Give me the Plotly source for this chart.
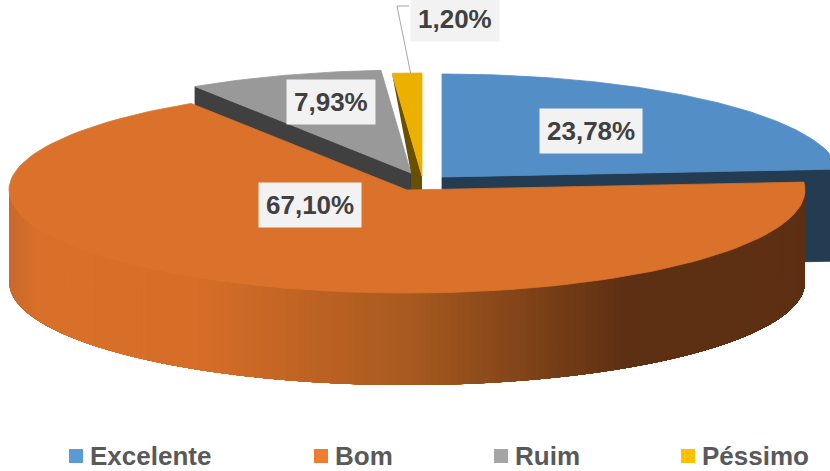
import numpy as np
import plotly.graph_objects as go

categories = ["Excelente", "Bom", "Ruim", "Péssimo"]
values = [23.78, 67.10, 7.93, 1.20]
legend_colors = ["#5B9BD5", "#ED7D31", "#A5A5A5", "#FFC000"]
top_colors = ["#548EC6", "#DA722B", "#999999", "#EBB000"]
side_colors = ["#233C52", "#5E3013", "#404040", "#695000"]
centers = [(442, 177), (407, 190), (411, 173), (422, 176)]
label_pos = [(591, 131), (310, 205), (331, 102), (455, 19)]
legend_x = [76, 321, 501, 688]
legend_y = 456

A, B, DEPTH = 398, 103, 92
W, H = 830, 471

shares = np.array(values) / sum(values) * 360
stops = np.concatenate([[0], np.cumsum(shares)])


def rim(c, t):
    r = np.radians(t)
    return c[0] + A * np.sin(r), c[1] - B * np.cos(r)


def poly(xs, ys, color, width=0.8):
    return go.Scatter(
        x=list(xs), y=list(ys), mode="lines", fill="toself", fillcolor=color,
        line=dict(color=color, width=width), hoverinfo="skip", showlegend=False,
    )


def mix(c1, c2, f):
    return "rgb(%d,%d,%d)" % tuple(c1[i] + (c2[i] - c1[i]) * f for i in range(3))


grad_x = [9, 40, 200, 410, 625, 830]
grad_c = [(200, 105, 42), (217, 113, 42), (214, 110, 40), (168, 90, 32), (94, 48, 19), (94, 48, 19)]


def grad(x):
    i = min(np.searchsorted(grad_x, x, side="right") - 1, len(grad_x) - 2)
    i = max(i, 0)
    f = (x - grad_x[i]) / (grad_x[i + 1] - grad_x[i])
    return mix(grad_c[i], grad_c[i + 1], f)


fig = go.Figure()


def wedge(i):
    t = np.linspace(stops[i], stops[i + 1], 120)
    x, y = rim(centers[i], t)
    return np.r_[centers[i][0], x, centers[i][0]], np.r_[centers[i][1], y, centers[i][1]]


# Excelente: cut face, then top
c = centers[0]
ex, ey = rim(c, stops[1])
fig.add_trace(poly([c[0], ex, ex, c[0], c[0]], [c[1], ey, ey + DEPTH, c[1] + DEPTH, c[1]], side_colors[0]))
fig.add_trace(poly(*wedge(0), top_colors[0]))

# Ruim: cut face, then top
c = centers[2]
ex, ey = rim(c, stops[2])
fig.add_trace(poly([c[0], ex, ex, c[0], c[0]], [c[1], ey, ey + DEPTH, c[1] + DEPTH, c[1]], side_colors[2]))
fig.add_trace(poly(*wedge(2), top_colors[2]))

# Péssimo: cut face, then top
c = centers[3]
ex, ey = rim(c, stops[3])
g = centers[2]
fig.add_trace(poly([ex, c[0], c[0], g[0], g[0], ex], [ey, c[1], c[1] + 30, g[1] + 30, g[1], ey], side_colors[3], width=0))
fig.add_trace(poly(*wedge(3), top_colors[3]))

# Bom: outer wall, painted left to right as shrinking overlapping pieces
c = centers[1]
for u in np.linspace(0, 1, 200):
    t_left = 270 + (stops[1] - 270) * u
    t = np.linspace(stops[1], t_left, 90)
    x, y = rim(c, t)
    xs = np.r_[x, x[::-1], x[0]]
    ys = np.r_[y, y[::-1] + DEPTH, y[0]]
    fig.add_trace(poly(xs, ys, grad(x.min() + 2), width=0))
fig.add_trace(poly(*wedge(1), top_colors[1]))

# leader line for the smallest slice
lx, ly = rim(centers[3], stops[3] + shares[3] * 0.62)
fig.add_trace(go.Scatter(x=[409, 397, lx], y=[6, 6, ly], mode="lines",
                         line=dict(color="#A6A6A6", width=1), hoverinfo="skip", showlegend=False))

# legend swatches
fig.add_trace(go.Scatter(
    x=legend_x, y=[legend_y] * 4, mode="markers", hoverinfo="skip", showlegend=False,
    marker=dict(symbol="square", size=14, color=legend_colors, line=dict(width=0)),
    cliponaxis=False,
))

annotations = []
for v, (x, y) in zip(values, label_pos):
    annotations.append(dict(
        x=x, y=y, xref="x", yref="y", showarrow=False,
        text="<b>%s%%</b>" % f"{v:.2f}".replace(".", ","),
        font=dict(family="Liberation Sans", size=26, color="#404040"),
        bgcolor="#F2F2F2", borderpad=7,
    ))
for name, x in zip(categories, legend_x):
    annotations.append(dict(
        x=x + 12, y=legend_y, xref="x", yref="y", showarrow=False, xanchor="left",
        text="<b>%s</b>" % name,
        font=dict(family="Liberation Sans", size=26, color="#595959"),
    ))

fig.update_layout(
    width=W, height=H, margin=dict(l=0, r=0, t=0, b=0),
    paper_bgcolor="white", plot_bgcolor="white", showlegend=False,
    xaxis=dict(range=[0, W], visible=False, fixedrange=True),
    yaxis=dict(range=[H, 0], visible=False, fixedrange=True),
    annotations=annotations,
)
fig.write_html("out.html", config={"displayModeBar": False},
               post_script="document.body.style.margin='0';document.body.style.overflow='hidden';")
